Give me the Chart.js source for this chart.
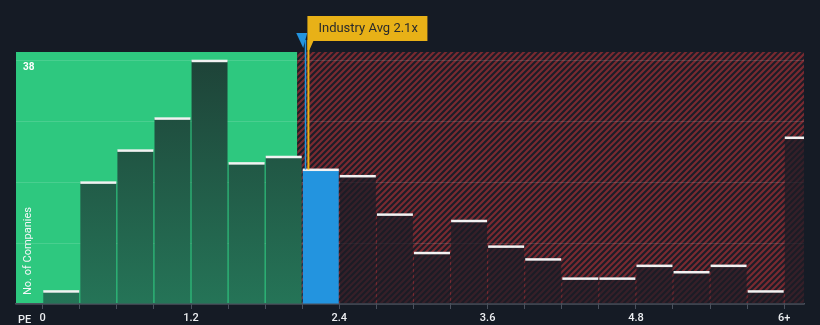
<!DOCTYPE html>
<html lang="en">
<head>
  <meta charset="UTF-8" />
  <title>PE distribution</title>
  <script src="https://cdn.jsdelivr.net/npm/chart.js"></script>
  <style>
    html, body {
      margin: 0;
      padding: 0;
      background: #151b25;
    }
    canvas {
      display: block;
    }
  </style>
</head>
<body>
  <canvas id="peChart" width="820" height="325"></canvas>

  <script>
    // bin centres (PE, bins of 0.3) and company counts per bin
    const binCenters = [0.15, 0.45, 0.75, 1.05, 1.35, 1.65, 1.95, 2.25, 2.55, 2.85, 3.15,
                        3.45, 3.75, 4.05, 4.35, 4.65, 4.95, 5.25, 5.55, 5.85, 6.15];
    const companyCounts = [2, 19, 24, 29, 38, 22, 23, 21, 20, 14, 8,
                           13, 9, 7, 4, 4, 6, 5, 6, 2, 26];
    const tickLabels = ['0', '1.2', '2.4', '3.6', '4.8', '6+'];
    const yGridValues = [0, 9.5, 19, 28.5, 38];

    const companyPE = 2.1;      // highlighted bin (blue)
    const fairBoundary = 2.06;  // green / red split
    const industryAvg = 2.15;
    const industryLabel = 'Industry Avg 2.1x';

    const FONT = "'Roboto', 'Noto Sans', sans-serif";

    // red diagonal hatch
    function makeHatch() {
      const c = document.createElement('canvas');
      c.width = 6; c.height = 6;
      const g = c.getContext('2d');
      g.fillStyle = '#1c1d27';
      g.fillRect(0, 0, 6, 6);
      g.strokeStyle = '#792a31';
      g.lineWidth = 2.2;
      g.beginPath();
      g.moveTo(-1, 7); g.lineTo(7, -1);
      g.moveTo(-4, 4); g.lineTo(4, -4);
      g.moveTo(2, 10); g.lineTo(10, 2);
      g.stroke();
      return g.createPattern(c, 'repeat');
    }

    const ctx = document.getElementById('peChart').getContext('2d');
    const hatch = makeHatch();

    const greenBar = ctx.createLinearGradient(0, 60, 0, 304);
    greenBar.addColorStop(0, '#1e4338');
    greenBar.addColorStop(1, '#257457');

    const barColors = binCenters.map(v => {
      if (v > companyPE && v < companyPE + 0.3) return '#2394df';
      if (v < fairBoundary) return greenBar;
      return 'rgba(28, 28, 38, 0.72)';
    });

    const backgroundPlugin = {
      id: 'regions',
      beforeDraw(chart) {
        const { ctx, chartArea: a, scales: { x } } = chart;
        const split = x.getPixelForValue(fairBoundary);
        ctx.save();
        ctx.fillStyle = '#2ec87f';
        ctx.fillRect(a.left, a.top, split - a.left, a.bottom - a.top);
        ctx.fillStyle = hatch;
        ctx.fillRect(split, a.top, a.right - split, a.bottom - a.top);
        ctx.restore();
      },
      afterDatasetsDraw(chart) {
        const { ctx, chartArea: a, scales: { x, y } } = chart;
        const meta = chart.getDatasetMeta(0);
        ctx.save();
        ctx.beginPath();
        ctx.rect(a.left, 0, a.right - a.left, a.bottom);
        ctx.clip();
        // white caps on each bar
        ctx.fillStyle = '#f2f2f2';
        meta.data.forEach(bar => {
          ctx.fillRect(bar.x - bar.width / 2, bar.y - 1, bar.width, 2.5);
        });
        ctx.restore();

        // top value label and axis titles
        ctx.save();
        ctx.fillStyle = '#ffffff';
        ctx.font = 'bold 10px ' + FONT;
        ctx.textBaseline = 'middle';
        ctx.fillText('38', a.left + 7, y.getPixelForValue(38) + 7);
        ctx.fillStyle = '#eceef1';
        ctx.font = '500 11px ' + FONT;
        ctx.fillText('PE', 18, 320);
        ctx.translate(28, 251);
        ctx.rotate(-Math.PI / 2);
        ctx.textAlign = 'center';
        ctx.fillStyle = '#f4f6f8';
        ctx.font = '11px ' + FONT;
        ctx.fillText('No. of Companies', 0, 0);
        ctx.restore();

        // industry average marker
        const ix = x.getPixelForValue(industryAvg);
        const cx = x.getPixelForValue(companyPE);
        const barTop = meta.data[7].y;
        ctx.save();
        ctx.fillStyle = '#2394df';
        ctx.beginPath();
        ctx.moveTo(cx - 6, 33);
        ctx.lineTo(cx + 5, 33);
        ctx.lineTo(cx + 1, 48);
        ctx.closePath();
        ctx.fill();
        ctx.fillRect(cx + 2.5, 40, 1.5, barTop - 40);
        ctx.fillStyle = '#e8b117';
        ctx.fillRect(ix - 1, 40, 2, barTop - 40);
        ctx.beginPath();
        ctx.moveTo(ix - 1, 16);
        ctx.lineTo(ix + 119, 16);
        ctx.lineTo(ix + 119, 41);
        ctx.lineTo(ix + 5, 41);
        ctx.lineTo(ix + 1, 50);
        ctx.lineTo(ix - 1, 50);
        ctx.closePath();
        ctx.fill();
        ctx.fillStyle = '#2b2b2b';
        ctx.font = '13px ' + FONT;
        ctx.textBaseline = 'middle';
        ctx.fillText(industryLabel, ix + 10, 29);
        ctx.restore();
      }
    };

    new Chart(ctx, {
      type: 'bar',
      data: {
        datasets: [{
          data: binCenters.map((v, i) => ({ x: v, y: companyCounts[i] })),
          backgroundColor: barColors,
          borderWidth: 0,
          barPercentage: 0.97,
          categoryPercentage: 1
        }]
      },
      options: {
        responsive: false,
        devicePixelRatio: 1,
        animation: false,
        layout: { padding: { left: 16, right: 16, top: 52, bottom: 0 } },
        plugins: {
          legend: { display: false },
          tooltip: { enabled: false }
        },
        scales: {
          x: {
            type: 'linear',
            offset: false,
            min: -0.216,
            max: 6.16,
            afterFit: s => { s.height = 21; },
            ticks: {
              stepSize: 0.3,
              includeBounds: false,
              autoSkip: false,
              maxRotation: 0,
              padding: 3,
              color: '#eceef1',
              font: { family: FONT, size: 11, weight: '500' },
              callback: (val, i) => (i % 4 === 0 ? tickLabels[i / 4] : '')
            },
            grid: {
              offset: false,
              drawOnChartArea: false,
              drawTicks: true,
              tickLength: 5,
              color: '#4a515d'
            },
            border: { color: '#4a515d', width: 1.5 }
          },
          y: {
            min: 0,
            max: 39.36,
            afterFit: s => { s.width = 0; },
            afterBuildTicks: s => { s.ticks = yGridValues.map(v => ({ value: v })); },
            ticks: { display: false },
            grid: {
              drawTicks: false,
              color: 'rgba(255, 255, 255, 0.13)'
            },
            border: { display: false }
          }
        }
      },
      plugins: [backgroundPlugin]
    });
  </script>
</body>
</html>
